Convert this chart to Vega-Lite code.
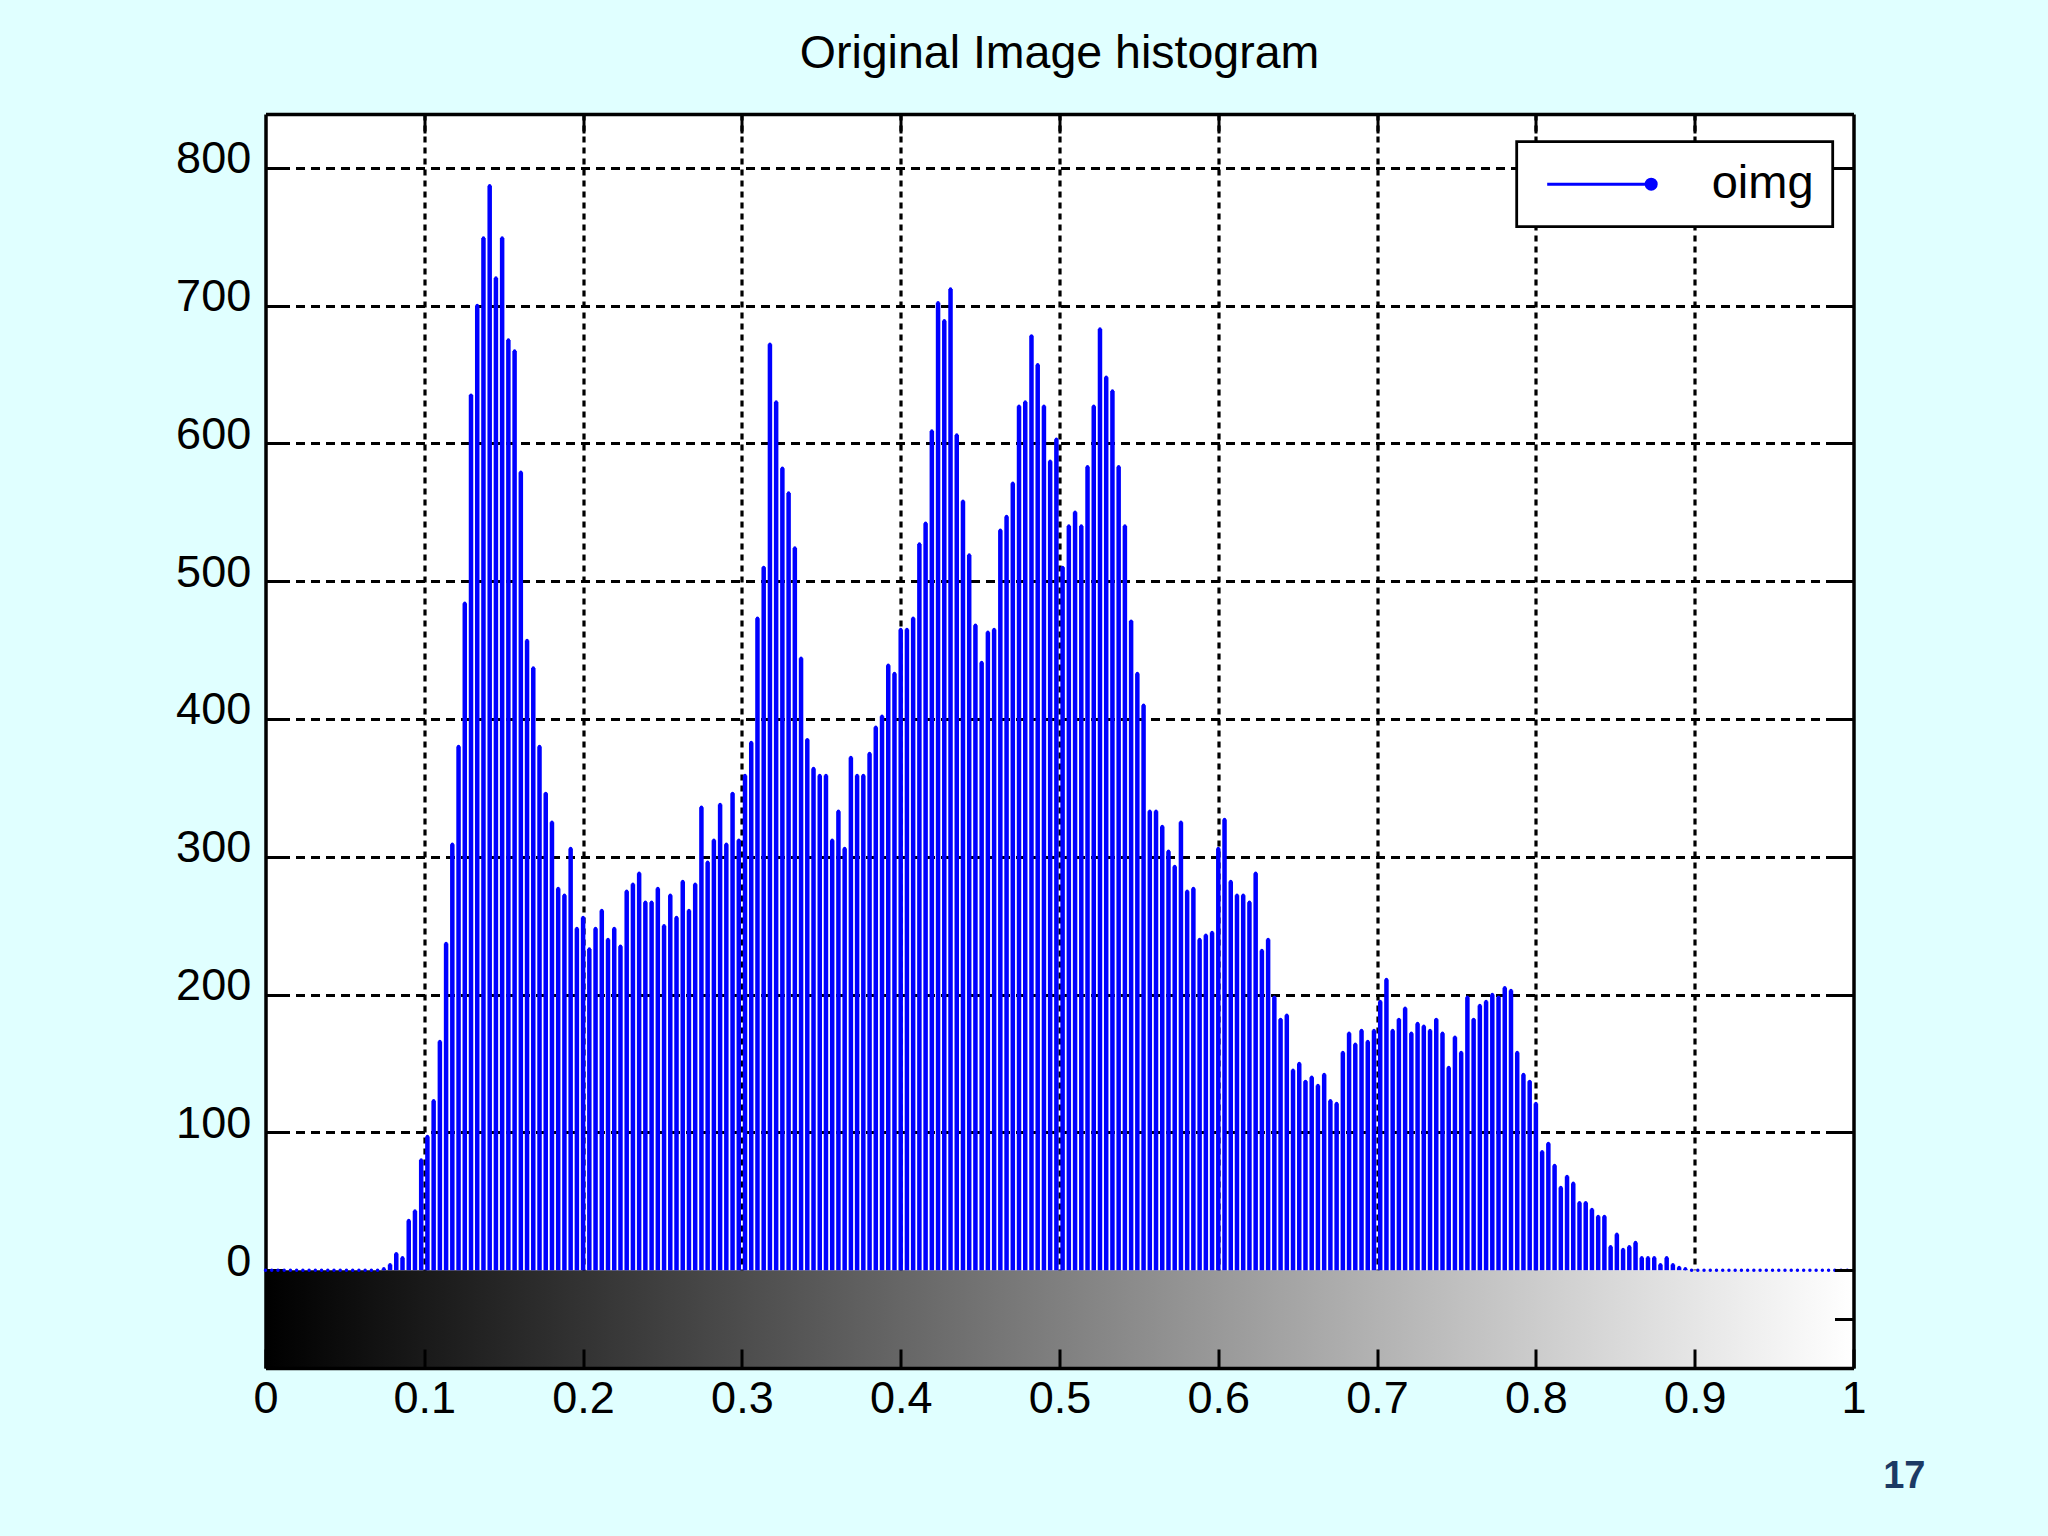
{
  "$schema": "https://vega.github.io/schema/vega-lite/v6.json",
  "autosize": {"type": "none"},
  "padding": {"left": 265.5, "top": 114, "right": 194.5, "bottom": 168},
  "width": 1588,
  "height": 1254,
  "background": "#e0ffff",
  "title": {"text": "Original Image histogram", "fontSize": 46.5, "font": "Liberation Sans", "fontWeight": "normal", "color": "#000000", "anchor": "middle", "frame": "group", "baseline": "alphabetic", "offset": -2},
  "config": {"view": {"fill": "#ffffff", "stroke": null}, "font": "Liberation Sans"},
  "datasets": {
    "hist": [
      {"bin":0,"count":0},{"bin":1,"count":0},{"bin":2,"count":0},{"bin":3,"count":0},{"bin":4,"count":0},{"bin":5,"count":0},{"bin":6,"count":0},{"bin":7,"count":0},{"bin":8,"count":0},{"bin":9,"count":0},
      {"bin":10,"count":0},{"bin":11,"count":0},{"bin":12,"count":0},{"bin":13,"count":0},{"bin":14,"count":0},{"bin":15,"count":0},{"bin":16,"count":0},{"bin":17,"count":0},{"bin":18,"count":0},{"bin":19,"count":1},
      {"bin":20,"count":4},{"bin":21,"count":12},{"bin":22,"count":9},{"bin":23,"count":36},{"bin":24,"count":43},{"bin":25,"count":80},{"bin":26,"count":97},{"bin":27,"count":123},{"bin":28,"count":166},{"bin":29,"count":237},
      {"bin":30,"count":309},{"bin":31,"count":380},{"bin":32,"count":484},{"bin":33,"count":635},{"bin":34,"count":700},{"bin":35,"count":749},{"bin":36,"count":787},{"bin":37,"count":720},{"bin":38,"count":749},{"bin":39,"count":675},
      {"bin":40,"count":667},{"bin":41,"count":579},{"bin":42,"count":457},{"bin":43,"count":437},{"bin":44,"count":380},{"bin":45,"count":346},{"bin":46,"count":325},{"bin":47,"count":277},{"bin":48,"count":272},{"bin":49,"count":306},
      {"bin":50,"count":248},{"bin":51,"count":256},{"bin":52,"count":233},{"bin":53,"count":248},{"bin":54,"count":261},{"bin":55,"count":240},{"bin":56,"count":248},{"bin":57,"count":235},{"bin":58,"count":275},{"bin":59,"count":280},
      {"bin":60,"count":288},{"bin":61,"count":267},{"bin":62,"count":267},{"bin":63,"count":277},{"bin":64,"count":250},{"bin":65,"count":272},{"bin":66,"count":256},{"bin":67,"count":282},{"bin":68,"count":261},{"bin":69,"count":280},
      {"bin":70,"count":336},{"bin":71,"count":296},{"bin":72,"count":312},{"bin":73,"count":338},{"bin":74,"count":309},{"bin":75,"count":346},{"bin":76,"count":312},{"bin":77,"count":359},{"bin":78,"count":383},{"bin":79,"count":473},
      {"bin":80,"count":510},{"bin":81,"count":672},{"bin":82,"count":630},{"bin":83,"count":582},{"bin":84,"count":564},{"bin":85,"count":524},{"bin":86,"count":444},{"bin":87,"count":385},{"bin":88,"count":364},{"bin":89,"count":359},
      {"bin":90,"count":359},{"bin":91,"count":312},{"bin":92,"count":333},{"bin":93,"count":306},{"bin":94,"count":372},{"bin":95,"count":359},{"bin":96,"count":359},{"bin":97,"count":375},{"bin":98,"count":394},{"bin":99,"count":402},
      {"bin":100,"count":439},{"bin":101,"count":433},{"bin":102,"count":465},{"bin":103,"count":465},{"bin":104,"count":473},{"bin":105,"count":527},{"bin":106,"count":542},{"bin":107,"count":609},{"bin":108,"count":702},{"bin":109,"count":689},
      {"bin":110,"count":712},{"bin":111,"count":606},{"bin":112,"count":558},{"bin":113,"count":519},{"bin":114,"count":468},{"bin":115,"count":441},{"bin":116,"count":463},{"bin":117,"count":465},{"bin":118,"count":537},{"bin":119,"count":547},
      {"bin":120,"count":571},{"bin":121,"count":627},{"bin":122,"count":630},{"bin":123,"count":678},{"bin":124,"count":657},{"bin":125,"count":627},{"bin":126,"count":587},{"bin":127,"count":603},{"bin":128,"count":510},{"bin":129,"count":540},
      {"bin":130,"count":550},{"bin":131,"count":540},{"bin":132,"count":583},{"bin":133,"count":627},{"bin":134,"count":683},{"bin":135,"count":648},{"bin":136,"count":638},{"bin":137,"count":583},{"bin":138,"count":540},{"bin":139,"count":471},
      {"bin":140,"count":433},{"bin":141,"count":410},{"bin":142,"count":333},{"bin":143,"count":333},{"bin":144,"count":322},{"bin":145,"count":304},{"bin":146,"count":293},{"bin":147,"count":325},{"bin":148,"count":275},{"bin":149,"count":277},
      {"bin":150,"count":240},{"bin":151,"count":243},{"bin":152,"count":245},{"bin":153,"count":306},{"bin":154,"count":327},{"bin":155,"count":282},{"bin":156,"count":272},{"bin":157,"count":272},{"bin":158,"count":267},{"bin":159,"count":288},
      {"bin":160,"count":232},{"bin":161,"count":240},{"bin":162,"count":198},{"bin":163,"count":182},{"bin":164,"count":185},{"bin":165,"count":145},{"bin":166,"count":150},{"bin":167,"count":137},{"bin":168,"count":140},{"bin":169,"count":134},
      {"bin":170,"count":142},{"bin":171,"count":123},{"bin":172,"count":121},{"bin":173,"count":158},{"bin":174,"count":172},{"bin":175,"count":164},{"bin":176,"count":174},{"bin":177,"count":166},{"bin":178,"count":174},{"bin":179,"count":195},
      {"bin":180,"count":211},{"bin":181,"count":174},{"bin":182,"count":182},{"bin":183,"count":190},{"bin":184,"count":172},{"bin":185,"count":179},{"bin":186,"count":177},{"bin":187,"count":174},{"bin":188,"count":182},{"bin":189,"count":172},
      {"bin":190,"count":147},{"bin":191,"count":169},{"bin":192,"count":158},{"bin":193,"count":198},{"bin":194,"count":182},{"bin":195,"count":192},{"bin":196,"count":195},{"bin":197,"count":200},{"bin":198,"count":198},{"bin":199,"count":205},
      {"bin":200,"count":203},{"bin":201,"count":158},{"bin":202,"count":142},{"bin":203,"count":137},{"bin":204,"count":121},{"bin":205,"count":86},{"bin":206,"count":92},{"bin":207,"count":76},{"bin":208,"count":60},{"bin":209,"count":68},
      {"bin":210,"count":63},{"bin":211,"count":49},{"bin":212,"count":49},{"bin":213,"count":44},{"bin":214,"count":39},{"bin":215,"count":39},{"bin":216,"count":17},{"bin":217,"count":26},{"bin":218,"count":15},{"bin":219,"count":17},
      {"bin":220,"count":20},{"bin":221,"count":9},{"bin":222,"count":9},{"bin":223,"count":9},{"bin":224,"count":4},{"bin":225,"count":9},{"bin":226,"count":4},{"bin":227,"count":2},{"bin":228,"count":1},{"bin":229,"count":0},
      {"bin":230,"count":0},{"bin":231,"count":0},{"bin":232,"count":0},{"bin":233,"count":0},{"bin":234,"count":0},{"bin":235,"count":0},{"bin":236,"count":0},{"bin":237,"count":0},{"bin":238,"count":0},{"bin":239,"count":0},
      {"bin":240,"count":0},{"bin":241,"count":0},{"bin":242,"count":0},{"bin":243,"count":0},{"bin":244,"count":0},{"bin":245,"count":0},{"bin":246,"count":0},{"bin":247,"count":0},{"bin":248,"count":0},{"bin":249,"count":0},
      {"bin":250,"count":0},{"bin":251,"count":0},{"bin":252,"count":0},{"bin":253,"count":0},{"bin":254,"count":0},{"bin":255,"count":0}
    ]
  },
  "resolve": {"axis": {"x": "independent", "y": "independent"}},
  "layer": [
    {
      "data": {"values": [{}]},
      "mark": {"type": "rect", "color": {"gradient": "linear", "x1": 0, "y1": 0, "x2": 1, "y2": 0, "stops": [{"offset": 0, "color": "#000000"}, {"offset": 1, "color": "#ffffff"}]}},
      "encoding": {
        "x": {"datum": 0, "type": "quantitative", "scale": {"domain": [0, 255], "nice": false, "zero": false},
          "axis": {"orient": "bottom", "values": [25.5, 51, 76.5, 102, 127.5, 153, 178.5, 204, 229.5], "grid": true, "gridColor": "#000000", "gridDash": [6, 5], "gridWidth": 3.2, "gridOpacity": 1, "ticks": false, "labels": false, "domain": false, "title": null, "zindex": 0}},
        "x2": {"datum": 255},
        "y": {"datum": -71, "type": "quantitative", "scale": {"domain": [-71, 839], "nice": false, "zero": false},
          "axis": {"orient": "left", "values": [0, 100, 200, 300, 400, 500, 600, 700, 800], "grid": true, "gridColor": {"condition": {"test": "datum.value === 0", "value": "transparent"}, "value": "#000000"}, "gridDash": [9, 6], "gridWidth": 3.2, "gridOpacity": 1, "ticks": true, "tickSize": -19, "tickWidth": 3, "tickColor": "#000000", "labels": true, "labelFontSize": 45, "labelFont": "Liberation Sans", "labelColor": "#000000", "labelPadding": 33.8, "labelOffset": -9, "labelFlush": false, "labelOverlap": false, "domain": true, "domainColor": "#000000", "domainWidth": 3.5, "title": null, "zindex": 0}},
        "y2": {"datum": 0}
      }
    },
    {
      "data": {"name": "hist"},
      "mark": {"type": "rule", "strokeWidth": 4.5},
      "encoding": {
        "x": {"field": "bin", "type": "quantitative",
          "axis": {"orient": "bottom", "values": [0, 25.5, 51, 76.5, 102, 127.5, 153, 178.5, 204, 229.5, 255], "labelExpr": "format(datum.value / 255, '.1~f')", "grid": false, "ticks": true, "tickSize": -19, "tickWidth": 3, "tickColor": "#000000", "labelFontSize": 45, "labelFont": "Liberation Sans", "labelColor": "#000000", "labelPadding": 27.7, "labelFlush": false, "labelOverlap": false, "domain": true, "domainWidth": 3.5, "domainColor": "#000000", "title": "17", "titleFont": "Liberation Sans", "titleFontSize": 38, "titleFontWeight": "bold", "titleColor": "#1c3a64", "titleX": 1659.5, "titleY": 119, "titleAlign": "right", "titleBaseline": "alphabetic", "zindex": 1}},
        "y": {"field": "count", "type": "quantitative",
          "axis": {"orient": "right", "values": [-35.5, 0, 100, 200, 300, 400, 500, 600, 700, 800], "grid": false, "ticks": true, "tickSize": -19, "tickWidth": 3, "tickColor": "#000000", "labels": false, "domain": true, "domainWidth": 3.5, "domainColor": "#000000", "title": null, "zindex": 1}},
        "y2": {"datum": 0},
        "color": {"datum": "oimg", "type": "nominal", "scale": {"range": ["#0000ff"]},
          "legend": {"orient": "none", "legendX": 1251.2, "legendY": 27.7, "title": null, "symbolType": "M-5.2,0L5.2,0M5.2,-0.5A0.5,0.5 0 1,1 5.2,0.5A0.5,0.5 0 1,1 5.2,-0.5Z", "symbolSize": 400, "symbolStrokeWidth": 3, "symbolStrokeColor": "#0000ff", "symbolFillColor": "#0000ff", "symbolOffset": 40, "labelOffset": 89, "labelFontSize": 47, "labelFont": "Liberation Sans", "labelColor": "#000000", "padding": 19, "strokeColor": "#000000", "fillColor": "#ffffff", "cornerRadius": 0,
            "encode": {"legend": {"update": {"strokeWidth": {"value": 2.8}}}, "symbols": {"update": {"fill": {"value": "#0000ff"}, "stroke": {"value": "#0000ff"}, "strokeWidth": {"value": 3}, "opacity": {"value": 1}}}}}}
      }
    },
    {
      "data": {"name": "hist"},
      "mark": {"type": "point", "filled": true, "size": 12, "color": "#0000ff", "opacity": 1},
      "encoding": {
        "x": {"field": "bin", "type": "quantitative",
          "axis": {"orient": "top", "values": [25.5, 51, 76.5, 102, 127.5, 153, 178.5, 204, 229.5], "grid": false, "ticks": true, "tickSize": -19, "tickWidth": 3, "tickColor": "#000000", "labels": false, "domain": true, "domainWidth": 3.5, "domainColor": "#000000", "title": null, "zindex": 1}},
        "y": {"field": "count", "type": "quantitative", "axis": null}
      }
    }
  ]
}
